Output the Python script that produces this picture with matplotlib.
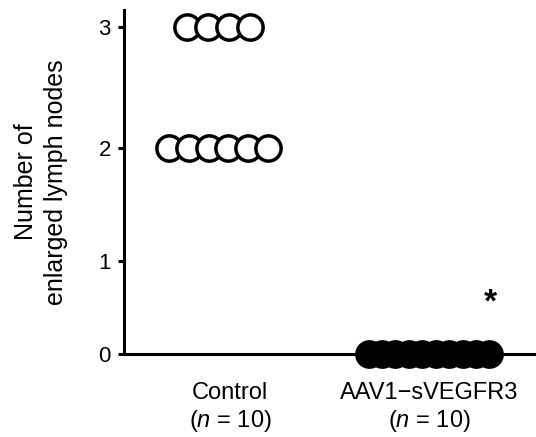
import numpy as np
import matplotlib
matplotlib.use("Agg")
import matplotlib.pyplot as plt

# data
groups = ["Control", "AAV1\u2212sVEGFR3"]
group_n = [10, 10]
control_counts = [3, 3, 3, 3, 2, 2, 2, 2, 2, 2]
aav_counts = [0, 0, 0, 0, 0, 0, 0, 0, 0, 0]
yticks = [0, 1, 2, 3]

plt.rcParams['font.family'] = ['Liberation Sans', 'DejaVu Sans']
plt.rcParams['mathtext.fontset'] = 'custom'
plt.rcParams['mathtext.rm'] = 'Liberation Sans'
plt.rcParams['mathtext.it'] = 'Liberation Sans:italic'

# the original axis is not evenly spaced: 0-1-2-3 sit at these heights
scale_vals = [-1, 0, 1, 2, 3, 4]
scale_pos = [-93, 0, 93, 206, 327, 448]


def fwd(v):
    return np.interp(v, scale_vals, scale_pos)


def inv(p):
    return np.interp(p, scale_pos, scale_vals)


def spread(center, n, step):
    return center + (np.arange(n) - (n - 1) / 2) * step


fig = plt.figure(figsize=(5.36, 4.37), dpi=100)
ax = fig.add_axes([0.2313, 0.190, 0.7687, 0.787])
ax.set_yscale('function', functions=(fwd, inv))

ms = 18.2
mew = 2.5
# control: one row per count value
ctrl = np.array(control_counts)
for val, cx, step in [(3, -0.058, 0.104), (2, -0.058, 0.1)]:
    k = int(np.sum(ctrl == val))
    ax.plot(spread(cx, k, step), [val] * k, 'o', ms=ms, mfc='white',
            mec='black', mew=mew, clip_on=False, zorder=3)

aav = np.array(aav_counts)
ax.plot(spread(1.0, len(aav), 0.0675), aav, 'o', ms=ms, mfc='black',
        mec='black', mew=mew, clip_on=False, zorder=3)

ax.text(1.307, 0.55, '*', fontsize=24, fontweight='bold', ha='center', va='center')

ax.set_xlim(-0.533, 1.538)
ax.set_ylim(0, 3.14)
ax.set_yticks(yticks)
ax.set_yticklabels([str(t) for t in yticks])
ax.set_xticks([0, 1])
ax.set_xticklabels([f"{g}\n($\\mathit{{n}}$ = {n})" for g, n in zip(groups, group_n)])

for s in ['top', 'right']:
    ax.spines[s].set_visible(False)
for s in ['left', 'bottom']:
    ax.spines[s].set_linewidth(2.2)

ax.tick_params(axis='y', direction='out', length=4.5, width=2.2, pad=5, labelsize=16)
ax.tick_params(axis='x', length=0, pad=20, labelsize=17)

ax.set_ylabel("Number of\nenlarged lymph nodes", fontsize=18, linespacing=1.3)
ax.yaxis.set_label_coords(-0.136, 0.50)

fig.savefig('out.png', dpi=100)
